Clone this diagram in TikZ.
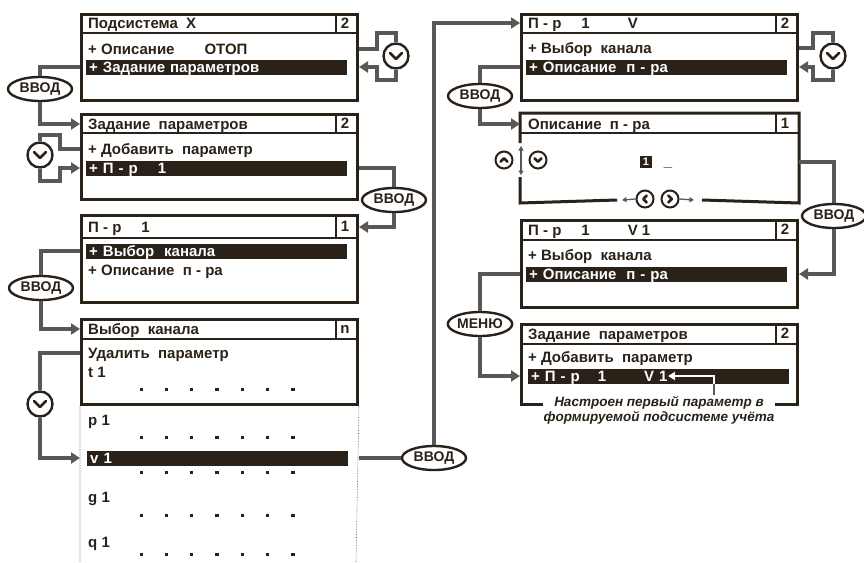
\documentclass[tikz,border=0pt]{standalone}
\usepackage{fontspec}
\setmainfont{Liberation Sans}
\usetikzlibrary{arrows.meta,shapes.geometric}

\definecolor{ink}{RGB}{42,33,24}
\definecolor{wire}{RGB}{88,88,88}

\begin{document}
\begin{tikzpicture}[x=1pt, y=-1pt, text=ink,
  font=\bfseries\fontsize{15}{17}\selectfont,
  panel/.style={draw=ink, line width=3pt, anchor=north west, minimum width=276pt, inner sep=0pt},
  edge/.style={draw=ink, line width=3pt},
  rule/.style={draw=ink, line width=1.5pt},
  row/.style={anchor=west, inner sep=0pt, text height=10.8pt, text depth=0pt},
  num/.style={inner sep=0pt, text height=10.8pt, text depth=0pt},
  hilite/.style={row, fill=ink, text=white, inner xsep=3pt, text width=255pt, minimum height=15pt},
  wire/.style={draw=wire, line width=3.2pt},
  feed/.style={wire, -{Triangle[length=9pt,width=11pt]}},
  tiny/.style={draw=wire, line width=1.3pt, -{Triangle[length=4.5pt,width=5pt]}},
  trail/.style={draw=wire, densely dotted, line width=0.6pt},
  key/.style={ellipse, draw=ink, line width=2.4pt, fill=white, minimum width=64pt, minimum height=24pt,
    inner sep=0pt, font=\bfseries\fontsize{14}{16}\selectfont},
  % knob=dx/dy/size : circle with a chevron pointing along (dx,dy)
  knob/.style args={#1/#2/#3}{circle, draw=ink, line width=2.4pt, fill=white, minimum size=25pt, inner sep=0pt,
    path picture={\draw[ink, line width=2.8pt, line cap=round, line join=round]
      ([shift={({-#3/2*#1-#3*#2},{-#3/2*#2-#3*#1})}]path picture bounding box.center)
      -- ([shift={({#3/2*#1},{#3/2*#2})}]path picture bounding box.center)
      -- ([shift={({-#3/2*#1+#3*#2},{-#3/2*#2+#3*#1})}]path picture bounding box.center);}},
  mini/.style={minimum size=17pt, line width=2pt},
  dot/.style={fill=ink},
]
\useasboundingbox (0,0) rectangle (864,562);

% ---- Подсистема X
\node[panel, minimum height=86pt] (p1) at (80,13) {};
\node[row] (p1title) at (88,23) {Подсистема~~X};
\node[num] (p1num) at (345,23) {2};
\node[row] (p1row) at (88,49) {+ Описание\hspace{30pt}ОТОП};
\node[hilite] (p1bar) at (86,67) {+ Задание параметров};

% ---- Задание параметров
\node[panel, minimum height=85pt] (p2) at (80,113) {};
\node[row] (p2title) at (88,124) {Задание~~параметров};
\node[num] (p2num) at (345,123) {2};
\node[row] (p2row) at (88,149) {+ Добавить~~параметр};
\node[hilite] (p2bar) at (86,168) {+ П - р\hspace{20pt}1};

% ---- П-р 1
\node[panel, minimum height=87pt] (p3) at (80,214) {};
\node[row] (p3title) at (88,227) {П - р\hspace{20pt}1};
\node[num] (p3num) at (345,226) {1};
\node[hilite] (p3bar) at (86,251) {+ Выбор~~канала};
\node[row] (p3row) at (88,270) {+ Описание~~п - ра};

% ---- Выбор канала
\node[panel, minimum height=85pt] (p4) at (80,318) {};
\node[row] (p4title) at (88,329) {Выбор~~канала};
\node[num] (p4num) at (345,328) {n};
\node[row] (p4row) at (88,353) {Удалить~~параметр};
\node[row] (t1) at (88,372) {t 1};
\node[row] (p1ch) at (88,420) {p 1};
\node[hilite] (v1bar) at (87,458) {v 1};
\node[row] (g1) at (88,497) {g 1};
\node[row] (q1) at (88,542) {q 1};
\draw[trail] (p4.south west) -- (80,562) (p4.south east) -- (356,562);
\foreach \y in {388,436,471,514,553}
  \foreach \i in {0,...,6}
    \fill[dot] ({139.5+25.3*\i},\y) rectangle ++(3.2,3.2);

% ---- П-р 1 V
\node[panel, minimum height=86pt] (p5) at (520,13) {};
\node[row] (p5title) at (528,23) {П - р\hspace{20pt}1\hspace{38pt}V};
\node[num] (p5num) at (785,23) {2};
\node[row] (p5row) at (528,48) {+ Выбор~~канала};
\node[hilite] (p5bar) at (526,67) {+ Описание~~п - ра};

% ---- Описание п-ра (рамка с разрывами)
\node[panel, draw=none, minimum height=87pt] (p6) at (520,113) {};
\draw[edge] (520,143) -- (p6.north west) -- (p6.north east) -- (p6.south east) -- (702,200);
\draw[edge] (617,200) -- (p6.south west) -- (520,177);
\node[row] (p6title) at (528,124) {Описание~~п - ра};
\node[num] (p6num) at (785,123) {1};
\node[fill=ink, text=white, minimum size=12pt, inner sep=0pt,
  font=\bfseries\fontsize{11}{11}\selectfont] (cur) at (646,162) {1};
\node[anchor=base, inner sep=0pt] (blank) at (668,166) {\_};
\node[knob=0/-1/3.5, mini] (u1) at (504,160) {};
\node[knob=0/1/3.5, mini] (d1) at (538,160) {};
\draw[tiny, {Triangle[length=4.5pt,width=5pt]}-{Triangle[length=4.5pt,width=5pt]}] (521,146) -- (521,175);
\node[knob=-1/0/3.5, mini] (l1) at (645,199) {};
\node[knob=1/0/3.5, mini] (r1) at (670,199) {};
\draw[tiny] (l1.west) -- (622,200);
\draw[tiny] (r1.east) -- (694,200);

% ---- П-р 1 V1
\node[panel, minimum height=87pt] (p7) at (520,219) {};
\node[row] (p7title) at (528,230) {П - р\hspace{20pt}1\hspace{38pt}V 1};
\node[num] (p7num) at (785,229) {2};
\node[row] (p7row) at (528,255) {+ Выбор~~канала};
\node[hilite] (p7bar) at (526,274) {+ Описание~~п - ра};

% ---- Задание параметров (итог)
\node[panel, minimum height=80pt] (p8) at (520,323) {};
\node[row] (p8title) at (528,334) {Задание~~параметров};
\node[num] (p8num) at (785,333) {2};
\node[row] (p8row) at (528,357) {+ Добавить~~параметр};
\node[hilite] (p8bar) at (528,376) {+ П - р\hspace{18pt}1\hspace{38pt}V 1};
\node[fill=white, inner sep=1pt, align=center, font=\bfseries\itshape\fontsize{13.5}{15}\selectfont]
  (note) at (659,410) {Настроен первый параметр в\\формируемой подсистеме учёта};
\coordinate (pin) at (714,376);
\draw[wire, line width=2.6pt] (pin |- note.north) -- (pin |- p8bar.south);
\draw[white, line width=2.6pt, -{Triangle[length=7pt,width=8pt]}] (pin |- p8bar.south) -- (pin) -- (668,376);

% title lines
\foreach \p/\h in {p1/20,p2/20,p3/24,p4/21,p5/20,p6/20,p7/21,p8/21}
  \draw[rule] ([yshift=-\h pt]\p.north west) -- ([yshift=-\h pt]\p.north east)
    ([xshift=-23pt]\p.north east) -- ([xshift=-23pt,yshift=-\h pt]\p.north east);

% keys and knobs
\node[key] (k1) at (40,89) {ВВОД};
\node[key] (k2) at (394,200) {ВВОД};
\node[key] (k3) at (41,288) {ВВОД};
\node[key] (k4) at (434,458) {ВВОД};
\node[key] (k5) at (480,96) {ВВОД};
\node[key] (k6) at (834,216) {ВВОД};
\node[key] (m1) at (480,324) {МЕНЮ};
\node[knob=0/1/6] (c1) at (396,56) {};
\node[knob=0/1/6] (c2) at (40,155) {};
\node[knob=0/1/6] (c3) at (40,404) {};
\node[knob=0/1/6] (c4) at (833,56) {};

% left column connectors
\draw[wire] (p1.west |- p1bar) -| (k1.north);
\draw[feed] (k1.south) |- (p2.west |- p2title);
\draw[wire] (p1.east |- p1row) -| (377,33) -| (c1.north);
\draw[feed] (c1.south) |- (377,80) |- (p1.east |- p1bar);
\draw[wire] (p2.west |- p2row) -| (60,135) -| (c2.north);
\draw[feed] (c2.south) |- (60,181) |- (p2.west |- p2bar);
\draw[wire] (p2.east |- p2bar) -| (k2.north);
\draw[feed] (k2.south) |- (p3.east |- p3title);
\draw[wire] (p3.west |- p3bar) -| (k3.north);
\draw[feed] (k3.south) |- (p4.west |- p4title);
\draw[wire] (p4.west |- p4row) -| (c3.north);
\draw[feed] (c3.south) |- (p4.west |- v1bar);
\draw[wire] (p4.east |- v1bar) -- (k4.west);

% right column connectors
\draw[feed] (k4.north) |- (p5.west |- p5title);
\draw[wire] (p5.east |- p5row) -| (813,33) -| (c4.north);
\draw[feed] (c4.south) |- (813,80) |- (p5.east |- p5bar);
\draw[wire] (p5.west |- p5bar) -| (k5.north);
\draw[feed] (k5.south) |- (p6.west |- p6title);
\draw[wire] (p6.east |- cur) -| (k6.north);
\draw[feed] (k6.south) |- (p7.east |- p7bar);
\draw[wire] (p7.west |- p7bar) -| (m1.north);
\draw[feed] (m1.south) |- (p8.west |- p8bar);

\end{tikzpicture}
\end{document}
